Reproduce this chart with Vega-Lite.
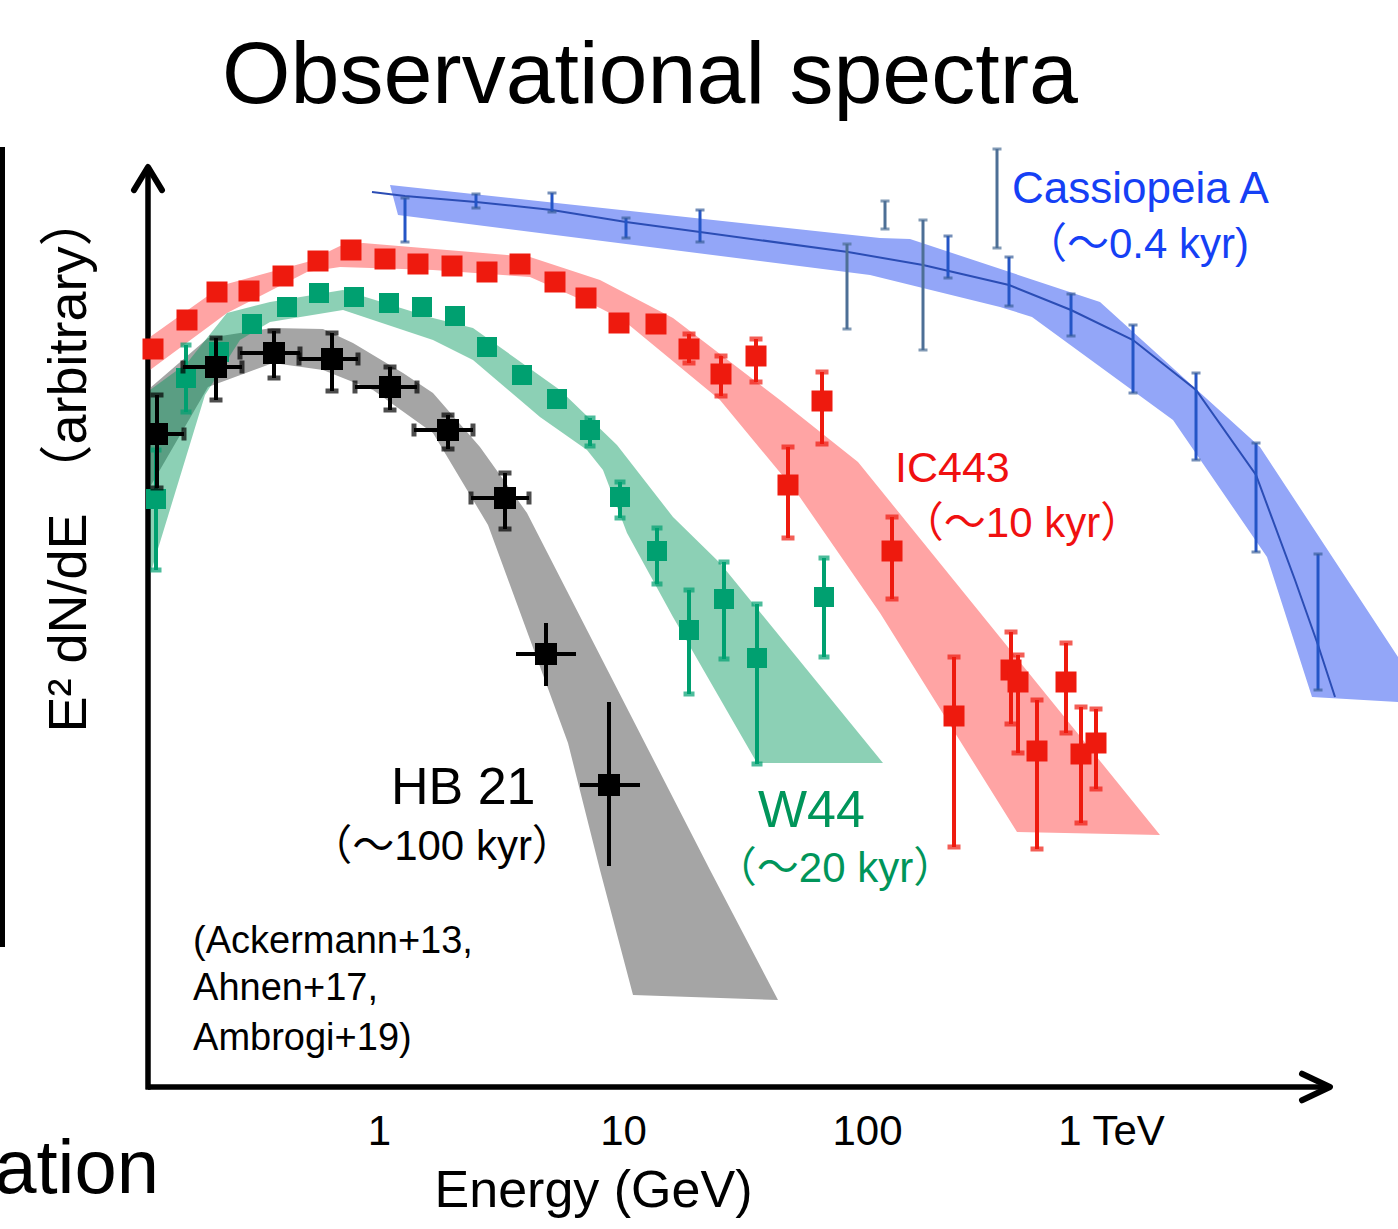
{
  "$schema": "https://vega.github.io/schema/vega-lite/v6.json",
  "width": 1250,
  "height": 947,
  "autosize": "none",
  "padding": {"left": 148, "top": 140, "right": 0, "bottom": 142},
  "background": "white",
  "config": {"view": {"stroke": null}, "font": "Liberation Sans"},
  "title": {"text": "Observational spectra", "fontSize": 88, "font": "Liberation Sans", "fontWeight": "normal", "color": "black", "anchor": "start", "frame": "group", "dx": 74, "dy": 88, "offset": 37, "baseline": "alphabetic"},
  "resolve": {"scale": {"color": "independent", "shape": "independent"}},
  "datasets": {
    "axesLines": [
      {"lx": -0.9467, "y": 0, "lx2": 3.8975, "y2": 0},
      {"lx": -0.9467, "y": 9.2, "lx2": -0.9467, "y2": -0.025},
      {"lx": -1.543, "y": 9.40, "lx2": -1.543, "y2": 1.40}
    ],
    "blueBand": [
      {"i": 0, "lx": 0.0451, "y": 9.02}, {"i": 1, "lx": 2.0533, "y": 8.49}, {"i": 2, "lx": 2.1762, "y": 8.48},
      {"i": 3, "lx": 2.9549, "y": 7.85}, {"i": 4, "lx": 3.6107, "y": 6.40}, {"i": 5, "lx": 4.1762, "y": 4.30},
      {"i": 6, "lx": 4.1762, "y": 3.85}, {"i": 7, "lx": 3.8238, "y": 3.90}, {"i": 8, "lx": 3.6393, "y": 5.30},
      {"i": 9, "lx": 3.2541, "y": 6.67}, {"i": 10, "lx": 2.6762, "y": 7.70}, {"i": 11, "lx": 2.5451, "y": 7.80},
      {"i": 12, "lx": 2.0123, "y": 8.12}, {"i": 13, "lx": 0.0779, "y": 8.72}
    ],
    "redBand": [
      {"i": 0, "lx": -0.9385, "y": 7.50}, {"i": 1, "lx": -0.6393, "y": 8.02}, {"i": 2, "lx": -0.2951, "y": 8.25},
      {"i": 3, "lx": -0.1598, "y": 8.41}, {"i": 4, "lx": -0.0656, "y": 8.44}, {"i": 5, "lx": 0.6189, "y": 8.30},
      {"i": 6, "lx": 0.9057, "y": 8.07}, {"i": 7, "lx": 1.2049, "y": 7.69}, {"i": 8, "lx": 1.6434, "y": 6.87},
      {"i": 9, "lx": 1.9631, "y": 6.25}, {"i": 10, "lx": 3.2008, "y": 2.52}, {"i": 11, "lx": 2.6148, "y": 2.55},
      {"i": 12, "lx": 2.0533, "y": 4.74}, {"i": 13, "lx": 1.7131, "y": 5.94}, {"i": 14, "lx": 1.3975, "y": 6.87},
      {"i": 15, "lx": 1.0000, "y": 7.67}, {"i": 16, "lx": 0.9057, "y": 7.79}, {"i": 17, "lx": 0.6189, "y": 8.10},
      {"i": 18, "lx": 0.2213, "y": 8.17}, {"i": 19, "lx": -0.1598, "y": 8.20}, {"i": 20, "lx": -0.2951, "y": 8.15},
      {"i": 21, "lx": -0.6230, "y": 7.74}, {"i": 22, "lx": -0.9385, "y": 7.17}
    ],
    "grayBand": [
      {"i": 0, "lx": -0.9385, "y": 6.99}, {"i": 1, "lx": -0.7008, "y": 7.49}, {"i": 2, "lx": -0.4385, "y": 7.59},
      {"i": 3, "lx": -0.2295, "y": 7.58}, {"i": 4, "lx": -0.1066, "y": 7.44}, {"i": 5, "lx": 0.0984, "y": 7.14},
      {"i": 6, "lx": 0.2213, "y": 6.94}, {"i": 7, "lx": 0.4139, "y": 6.40}, {"i": 8, "lx": 0.6066, "y": 5.74},
      {"i": 9, "lx": 1.3566, "y": 2.17}, {"i": 10, "lx": 1.6352, "y": 0.87}, {"i": 11, "lx": 1.0410, "y": 0.92},
      {"i": 12, "lx": 0.9057, "y": 2.17}, {"i": 13, "lx": 0.7746, "y": 3.44}, {"i": 14, "lx": 0.4467, "y": 5.62},
      {"i": 15, "lx": 0.2213, "y": 6.54}, {"i": 16, "lx": -0.0246, "y": 6.97}, {"i": 17, "lx": -0.2295, "y": 7.17},
      {"i": 18, "lx": -0.4344, "y": 7.24}, {"i": 19, "lx": -0.7008, "y": 7.00}, {"i": 20, "lx": -0.9385, "y": 6.00}
    ],
    "greenBand": [
      {"i": 0, "lx": -0.9385, "y": 6.97}, {"i": 1, "lx": -0.7869, "y": 7.24}, {"i": 2, "lx": -0.6230, "y": 7.74},
      {"i": 3, "lx": -0.4467, "y": 7.85}, {"i": 4, "lx": -0.1475, "y": 7.97}, {"i": 5, "lx": 0.2213, "y": 7.69},
      {"i": 6, "lx": 0.3852, "y": 7.59}, {"i": 7, "lx": 0.7418, "y": 6.97}, {"i": 8, "lx": 0.9754, "y": 6.42},
      {"i": 9, "lx": 1.2049, "y": 5.70}, {"i": 10, "lx": 1.3975, "y": 5.24}, {"i": 11, "lx": 2.0656, "y": 3.24},
      {"i": 12, "lx": 1.5492, "y": 3.24}, {"i": 13, "lx": 1.2049, "y": 4.70}, {"i": 14, "lx": 1.0164, "y": 5.54},
      {"i": 15, "lx": 0.9180, "y": 6.17}, {"i": 16, "lx": 0.8525, "y": 6.37}, {"i": 17, "lx": 0.6598, "y": 6.70},
      {"i": 18, "lx": 0.3852, "y": 7.27}, {"i": 19, "lx": 0.2213, "y": 7.47}, {"i": 20, "lx": -0.1475, "y": 7.77},
      {"i": 21, "lx": -0.4467, "y": 7.65}, {"i": 22, "lx": -0.5697, "y": 7.47}, {"i": 23, "lx": -0.7131, "y": 6.92},
      {"i": 24, "lx": -0.9385, "y": 5.12}
    ],
    "casLine": [
      {"lx": -0.0287, "y": 8.95}, {"lx": 0.1066, "y": 8.91}, {"lx": 0.3975, "y": 8.85}, {"lx": 0.7090, "y": 8.77},
      {"lx": 1.0123, "y": 8.65}, {"lx": 1.3156, "y": 8.55}, {"lx": 1.9221, "y": 8.35}, {"lx": 2.2295, "y": 8.22},
      {"lx": 2.5820, "y": 8.02}, {"lx": 2.8361, "y": 7.77}, {"lx": 3.0902, "y": 7.47}, {"lx": 3.3484, "y": 6.97},
      {"lx": 3.5943, "y": 6.12}, {"lx": 3.7541, "y": 5.07}, {"lx": 3.8484, "y": 4.42}, {"lx": 3.9180, "y": 3.90}
    ],
    "casErr": [
      {"lx": 0.1066, "y": 8.67, "lo": 8.45, "hi": 8.89, "inst": "B"},
      {"lx": 0.3975, "y": 8.86, "lo": 8.79, "hi": 8.93, "inst": "B"},
      {"lx": 0.7090, "y": 8.84, "lo": 8.75, "hi": 8.94, "inst": "B"},
      {"lx": 1.0123, "y": 8.59, "lo": 8.49, "hi": 8.69, "inst": "B"},
      {"lx": 1.3156, "y": 8.61, "lo": 8.45, "hi": 8.77, "inst": "B"},
      {"lx": 1.9180, "y": 8.03, "lo": 7.58, "hi": 8.43, "inst": "A"},
      {"lx": 2.0738, "y": 8.72, "lo": 8.58, "hi": 8.86, "inst": "A"},
      {"lx": 2.2295, "y": 8.14, "lo": 7.37, "hi": 8.67, "inst": "A"},
      {"lx": 2.3320, "y": 8.30, "lo": 8.09, "hi": 8.51, "inst": "B"},
      {"lx": 2.5328, "y": 8.90, "lo": 8.39, "hi": 9.38, "inst": "A"},
      {"lx": 2.5820, "y": 8.04, "lo": 7.81, "hi": 8.30, "inst": "B"},
      {"lx": 2.8361, "y": 7.72, "lo": 7.51, "hi": 7.93, "inst": "B"},
      {"lx": 3.0902, "y": 7.28, "lo": 6.94, "hi": 7.62, "inst": "B"},
      {"lx": 3.3484, "y": 6.69, "lo": 6.27, "hi": 7.14, "inst": "B"},
      {"lx": 3.5943, "y": 5.90, "lo": 5.35, "hi": 6.44, "inst": "B"},
      {"lx": 3.8484, "y": 4.65, "lo": 3.97, "hi": 5.33, "inst": "B"}
    ],
    "red": [
      {"lx": -0.9262, "y": 7.38}, {"lx": -0.7869, "y": 7.67}, {"lx": -0.6639, "y": 7.95}, {"lx": -0.5328, "y": 7.96},
      {"lx": -0.3934, "y": 8.11}, {"lx": -0.2500, "y": 8.26}, {"lx": -0.1148, "y": 8.37}, {"lx": 0.0246, "y": 8.28},
      {"lx": 0.1598, "y": 8.23}, {"lx": 0.2992, "y": 8.21}, {"lx": 0.4426, "y": 8.15}, {"lx": 0.5779, "y": 8.23},
      {"lx": 0.7213, "y": 8.05}, {"lx": 0.8484, "y": 7.89}, {"lx": 0.9836, "y": 7.64}, {"lx": 1.1352, "y": 7.63},
      {"lx": 1.2705, "y": 7.38, "lo": 7.24, "hi": 7.53},
      {"lx": 1.4016, "y": 7.13, "lo": 6.91, "hi": 7.31},
      {"lx": 1.5451, "y": 7.31, "lo": 7.05, "hi": 7.48},
      {"lx": 1.6762, "y": 6.02, "lo": 5.49, "hi": 6.40},
      {"lx": 1.8156, "y": 6.86, "lo": 6.43, "hi": 7.15},
      {"lx": 2.1025, "y": 5.36, "lo": 4.88, "hi": 5.70},
      {"lx": 2.3566, "y": 3.71, "lo": 2.40, "hi": 4.30},
      {"lx": 2.5902, "y": 4.17, "lo": 3.63, "hi": 4.55},
      {"lx": 2.6189, "y": 4.05, "lo": 3.34, "hi": 4.32},
      {"lx": 2.6967, "y": 3.36, "lo": 2.38, "hi": 3.87},
      {"lx": 2.8156, "y": 4.05, "lo": 3.54, "hi": 4.44},
      {"lx": 2.8770, "y": 3.33, "lo": 2.64, "hi": 3.80},
      {"lx": 2.9385, "y": 3.44, "lo": 2.98, "hi": 3.78}
    ],
    "green": [
      {"lx": -0.9139, "y": 5.88, "lo": 5.17, "hi": 6.37},
      {"lx": -0.7910, "y": 7.09, "lo": 6.75, "hi": 7.42},
      {"lx": -0.6557, "y": 7.35}, {"lx": -0.5205, "y": 7.63}, {"lx": -0.3770, "y": 7.80}, {"lx": -0.2459, "y": 7.94},
      {"lx": -0.1025, "y": 7.90}, {"lx": 0.0410, "y": 7.84}, {"lx": 0.1762, "y": 7.80}, {"lx": 0.3115, "y": 7.71},
      {"lx": 0.4426, "y": 7.40}, {"lx": 0.5861, "y": 7.12}, {"lx": 0.7295, "y": 6.88},
      {"lx": 0.8648, "y": 6.57, "lo": 6.41, "hi": 6.69},
      {"lx": 0.9877, "y": 5.90, "lo": 5.69, "hi": 6.05},
      {"lx": 1.1393, "y": 5.36, "lo": 5.03, "hi": 5.59},
      {"lx": 1.2705, "y": 4.57, "lo": 3.93, "hi": 4.97},
      {"lx": 1.4139, "y": 4.88, "lo": 4.28, "hi": 5.25},
      {"lx": 1.5492, "y": 4.29, "lo": 3.23, "hi": 4.83},
      {"lx": 1.8238, "y": 4.90, "lo": 4.30, "hi": 5.29}
    ],
    "black": [
      {"lx": -0.9098, "y": 6.53, "lo": 5.99, "hi": 6.92, "xlo": -0.9385, "xhi": -0.7992, "cap": true},
      {"lx": -0.6680, "y": 7.20, "lo": 6.87, "hi": 7.49, "xlo": -0.8033, "xhi": -0.5615, "cap": true},
      {"lx": -0.4303, "y": 7.34, "lo": 7.09, "hi": 7.56, "xlo": -0.5697, "xhi": -0.3238, "cap": true},
      {"lx": -0.1926, "y": 7.28, "lo": 6.96, "hi": 7.54, "xlo": -0.3279, "xhi": -0.0861, "cap": true},
      {"lx": 0.0451, "y": 7.00, "lo": 6.77, "hi": 7.20, "xlo": -0.0984, "xhi": 0.1557, "cap": true},
      {"lx": 0.2828, "y": 6.57, "lo": 6.38, "hi": 6.72, "xlo": 0.1434, "xhi": 0.3852, "cap": true},
      {"lx": 0.5164, "y": 5.89, "lo": 5.58, "hi": 6.14, "xlo": 0.3770, "xhi": 0.6148, "cap": true},
      {"lx": 0.6844, "y": 4.33, "lo": 4.01, "hi": 4.64, "xlo": 0.5615, "xhi": 0.8074, "cap": false},
      {"lx": 0.9426, "y": 3.02, "lo": 2.21, "hi": 3.85, "xlo": 0.8238, "xhi": 1.0697, "cap": false}
    ],
    "labels": [
      {"lab": "cas", "lx": 2.5943, "y": 8.84, "t": "Cassiopeia  A"},
      {"lab": "casAge", "lx": 3.5656, "y": 8.29, "t": "（〜0.4 kyr)"},
      {"lab": "ic", "lx": 2.1148, "y": 6.05, "t": "IC443"},
      {"lab": "icAge", "lx": 2.6352, "y": 5.50, "t": "（〜10 kyr）"},
      {"lab": "hb", "lx": 0.0492, "y": 2.83, "t": "HB 21"},
      {"lab": "hbAge", "lx": 0.2582, "y": 2.27, "t": "（〜100 kyr）"},
      {"lab": "w", "lx": 1.5533, "y": 2.60, "t": "W44"},
      {"lab": "wAge", "lx": 1.8689, "y": 2.05, "t": "（〜20 kyr）"},
      {"lab": "ref", "lx": -0.762, "y": 1.34, "t": "(Ackermann+13,"},
      {"lab": "ref", "lx": -0.762, "y": 0.87, "t": "Ahnen+17,"},
      {"lab": "ref", "lx": -0.762, "y": 0.37, "t": "Ambrogi+19)"},
      {"lab": "cut", "lx": -0.9016, "y": -1.06, "t": "ation"}
    ]
  },
  "layer": [
    {"data": {"name": "axesLines"},
      "mark": {"type": "rule", "color": "black", "strokeWidth": 5},
      "encoding": {
        "x": {"field": "lx", "type": "quantitative",
          "scale": {"domain": [-0.9467, 4.1762], "nice": false, "zero": false},
          "axis": {"domain": false, "ticks": false, "grid": false, "values": [0, 1, 2, 3],
            "labelExpr": "datum.value == 3 ? '1 TeV' : datum.value == 2 ? '100' : datum.value == 1 ? '10' : '1'",
            "labelFontSize": 42, "labelFont": "Liberation Sans", "labelColor": "black", "labelPadding": 57,
            "labelBaseline": "alphabetic", "labelFlush": false, "labelOverlap": false,
            "title": "Energy (GeV)", "titleFontSize": 52, "titleFont": "Liberation Sans", "titleFontWeight": "normal",
            "titleColor": "black", "titleX": 445, "titleY": 119, "titleBaseline": "alphabetic", "titleAlign": "center"}},
        "x2": {"field": "lx2"},
        "y": {"field": "y", "type": "quantitative",
          "scale": {"domain": [0, 9.47], "nice": false, "zero": false},
          "axis": {"domain": false, "ticks": false, "labels": false, "grid": false,
            "title": "E² dN/dE （arbitrary）", "titleFontSize": 54, "titleFont": "Liberation Sans, Noto Sans CJK JP",
            "titleFontWeight": "normal", "titleColor": "black", "titleX": -63, "titleY": 322, "titleAngle": 270,
            "titleAlign": "center", "titleBaseline": "alphabetic"}},
        "y2": {"field": "y2"}
      }},
    {"data": {"name": "redBand"}, "mark": {"type": "line", "fill": "#ffa4a4", "strokeWidth": 0},
      "encoding": {"x": {"field": "lx", "type": "quantitative"}, "y": {"field": "y", "type": "quantitative"}, "order": {"field": "i", "type": "quantitative"}}},
    {"data": {"name": "blueBand"}, "mark": {"type": "line", "fill": "#93a6f8", "strokeWidth": 0},
      "encoding": {"x": {"field": "lx", "type": "quantitative"}, "y": {"field": "y", "type": "quantitative"}, "order": {"field": "i", "type": "quantitative"}}},
    {"data": {"name": "grayBand"}, "mark": {"type": "line", "fill": "#a5a5a5", "strokeWidth": 0},
      "encoding": {"x": {"field": "lx", "type": "quantitative"}, "y": {"field": "y", "type": "quantitative"}, "order": {"field": "i", "type": "quantitative"}}},
    {"data": {"name": "greenBand"}, "mark": {"type": "line", "fill": "#00965a", "fillOpacity": 0.45, "strokeWidth": 0},
      "encoding": {"x": {"field": "lx", "type": "quantitative"}, "y": {"field": "y", "type": "quantitative"}, "order": {"field": "i", "type": "quantitative"}}},
    {"data": {"name": "axesLines"},
      "mark": {"type": "rule", "color": "black", "strokeWidth": 5},
      "encoding": {"x": {"field": "lx", "type": "quantitative"}, "x2": {"field": "lx2"}, "y": {"field": "y", "type": "quantitative"}, "y2": {"field": "y2"}}},
    {"data": {"name": "casLine"}, "mark": {"type": "line", "color": "#2b4db5", "strokeWidth": 2},
      "encoding": {"x": {"field": "lx", "type": "quantitative"}, "y": {"field": "y", "type": "quantitative"}}},
    {"data": {"name": "casErr"}, "mark": {"type": "rule", "strokeWidth": 3},
      "encoding": {"x": {"field": "lx", "type": "quantitative"}, "y": {"field": "lo", "type": "quantitative"}, "y2": {"field": "hi"},
        "color": {"field": "inst", "type": "nominal", "scale": {"domain": ["A", "B"], "range": ["#4d6f96", "#2455c6"]}, "legend": null}}},
    {"data": {"name": "casErr"}, "transform": [{"fold": ["lo", "hi"], "as": ["end", "yv"]}],
      "mark": {"type": "tick", "orient": "horizontal", "size": 9, "thickness": 3},
      "encoding": {"x": {"field": "lx", "type": "quantitative"}, "y": {"field": "yv", "type": "quantitative"},
        "color": {"field": "inst", "type": "nominal", "scale": {"domain": ["A", "B"], "range": ["#4d6f96", "#3a5f9a"]}, "legend": null}}},
    {"data": {"name": "red"}, "transform": [{"filter": "isValid(datum.lo)"}], "mark": {"type": "rule", "color": "#ee1a0e", "strokeWidth": 4},
      "encoding": {"x": {"field": "lx", "type": "quantitative"}, "y": {"field": "lo", "type": "quantitative"}, "y2": {"field": "hi"}}},
    {"data": {"name": "red"}, "transform": [{"filter": "isValid(datum.lo)"}, {"fold": ["lo", "hi"], "as": ["end", "yv"]}],
      "mark": {"type": "tick", "orient": "horizontal", "color": "#ee1a0e", "size": 13, "thickness": 5},
      "encoding": {"x": {"field": "lx", "type": "quantitative"}, "y": {"field": "yv", "type": "quantitative"}}},
    {"data": {"name": "red"}, "mark": {"type": "point", "shape": "square", "filled": true, "size": 441, "color": "#ee1a0e", "opacity": 1},
      "encoding": {"x": {"field": "lx", "type": "quantitative"}, "y": {"field": "y", "type": "quantitative"}}},
    {"data": {"name": "green"}, "transform": [{"filter": "isValid(datum.lo)"}], "mark": {"type": "rule", "color": "#00a070", "strokeWidth": 4},
      "encoding": {"x": {"field": "lx", "type": "quantitative"}, "y": {"field": "lo", "type": "quantitative"}, "y2": {"field": "hi"}}},
    {"data": {"name": "green"}, "transform": [{"filter": "isValid(datum.lo)"}, {"fold": ["lo", "hi"], "as": ["end", "yv"]}],
      "mark": {"type": "tick", "orient": "horizontal", "color": "#00a070", "size": 11, "thickness": 5},
      "encoding": {"x": {"field": "lx", "type": "quantitative"}, "y": {"field": "yv", "type": "quantitative"}}},
    {"data": {"name": "green"}, "mark": {"type": "point", "shape": "square", "filled": true, "size": 400, "color": "#00a070", "opacity": 1},
      "encoding": {"x": {"field": "lx", "type": "quantitative"}, "y": {"field": "y", "type": "quantitative"}}},
    {"data": {"name": "black"}, "mark": {"type": "rule", "color": "black", "strokeWidth": 4},
      "encoding": {"x": {"field": "lx", "type": "quantitative"}, "y": {"field": "lo", "type": "quantitative"}, "y2": {"field": "hi"}}},
    {"data": {"name": "black"}, "mark": {"type": "rule", "color": "black", "strokeWidth": 4},
      "encoding": {"x": {"field": "xlo", "type": "quantitative"}, "x2": {"field": "xhi"}, "y": {"field": "y", "type": "quantitative"}}},
    {"data": {"name": "black"}, "transform": [{"filter": "datum.cap"}, {"fold": ["lo", "hi"], "as": ["end", "yv"]}],
      "mark": {"type": "tick", "orient": "horizontal", "color": "black", "size": 13, "thickness": 5},
      "encoding": {"x": {"field": "lx", "type": "quantitative"}, "y": {"field": "yv", "type": "quantitative"}}},
    {"data": {"name": "black"}, "transform": [{"filter": "datum.cap"}, {"fold": ["xlo", "xhi"], "as": ["end", "xv"]}],
      "mark": {"type": "tick", "orient": "vertical", "color": "black", "size": 13, "thickness": 5},
      "encoding": {"x": {"field": "xv", "type": "quantitative"}, "y": {"field": "y", "type": "quantitative"}}},
    {"data": {"name": "black"}, "mark": {"type": "point", "shape": "square", "filled": true, "size": 484, "color": "black", "opacity": 1},
      "encoding": {"x": {"field": "lx", "type": "quantitative"}, "y": {"field": "y", "type": "quantitative"}}},
    {"data": {"values": [{"lx": 3.8975, "y": 0, "dir": "right"}, {"lx": -0.9467, "y": 9.2, "dir": "up"}]},
      "mark": {"type": "point", "filled": false, "size": 784, "strokeWidth": 6, "color": "black", "opacity": 1, "strokeCap": "round", "strokeJoin": "round"},
      "encoding": {"x": {"field": "lx", "type": "quantitative"}, "y": {"field": "y", "type": "quantitative"},
        "shape": {"field": "dir", "type": "nominal", "scale": {"domain": ["right", "up"], "range": ["M-2,-0.95L0,0L-2,0.95", "M-1,1.65L0,0L1,1.65"]}, "legend": null}}},
    {"data": {"name": "labels"}, "transform": [{"filter": "datum.lab == 'cas'"}],
      "mark": {"type": "text", "align": "left", "baseline": "alphabetic", "fontSize": 44, "color": "#1540f5", "font": "Liberation Sans, Noto Sans CJK JP"},
      "encoding": {"x": {"field": "lx", "type": "quantitative"}, "y": {"field": "y", "type": "quantitative"}, "text": {"field": "t"}}},
    {"data": {"name": "labels"}, "transform": [{"filter": "datum.lab == 'casAge'"}],
      "mark": {"type": "text", "align": "right", "baseline": "alphabetic", "fontSize": 42, "color": "#1540f5", "font": "Liberation Sans, Noto Sans CJK JP"},
      "encoding": {"x": {"field": "lx", "type": "quantitative"}, "y": {"field": "y", "type": "quantitative"}, "text": {"field": "t"}}},
    {"data": {"name": "labels"}, "transform": [{"filter": "datum.lab == 'ic'"}],
      "mark": {"type": "text", "align": "left", "baseline": "alphabetic", "fontSize": 43, "color": "#f01010", "font": "Liberation Sans, Noto Sans CJK JP"},
      "encoding": {"x": {"field": "lx", "type": "quantitative"}, "y": {"field": "y", "type": "quantitative"}, "text": {"field": "t"}}},
    {"data": {"name": "labels"}, "transform": [{"filter": "datum.lab == 'icAge'"}],
      "mark": {"type": "text", "align": "center", "baseline": "alphabetic", "fontSize": 42, "color": "#f01010", "font": "Liberation Sans, Noto Sans CJK JP"},
      "encoding": {"x": {"field": "lx", "type": "quantitative"}, "y": {"field": "y", "type": "quantitative"}, "text": {"field": "t"}}},
    {"data": {"name": "labels"}, "transform": [{"filter": "datum.lab == 'hb'"}],
      "mark": {"type": "text", "align": "left", "baseline": "alphabetic", "fontSize": 52, "color": "black", "font": "Liberation Sans, Noto Sans CJK JP"},
      "encoding": {"x": {"field": "lx", "type": "quantitative"}, "y": {"field": "y", "type": "quantitative"}, "text": {"field": "t"}}},
    {"data": {"name": "labels"}, "transform": [{"filter": "datum.lab == 'hbAge'"}],
      "mark": {"type": "text", "align": "center", "baseline": "alphabetic", "fontSize": 42, "color": "black", "font": "Liberation Sans, Noto Sans CJK JP"},
      "encoding": {"x": {"field": "lx", "type": "quantitative"}, "y": {"field": "y", "type": "quantitative"}, "text": {"field": "t"}}},
    {"data": {"name": "labels"}, "transform": [{"filter": "datum.lab == 'w'"}],
      "mark": {"type": "text", "align": "left", "baseline": "alphabetic", "fontSize": 52, "color": "#00955a", "font": "Liberation Sans, Noto Sans CJK JP"},
      "encoding": {"x": {"field": "lx", "type": "quantitative"}, "y": {"field": "y", "type": "quantitative"}, "text": {"field": "t"}}},
    {"data": {"name": "labels"}, "transform": [{"filter": "datum.lab == 'wAge'"}],
      "mark": {"type": "text", "align": "center", "baseline": "alphabetic", "fontSize": 42, "color": "#00955a", "font": "Liberation Sans, Noto Sans CJK JP"},
      "encoding": {"x": {"field": "lx", "type": "quantitative"}, "y": {"field": "y", "type": "quantitative"}, "text": {"field": "t"}}},
    {"data": {"name": "labels"}, "transform": [{"filter": "datum.lab == 'ref'"}],
      "mark": {"type": "text", "align": "left", "baseline": "alphabetic", "fontSize": 38, "color": "black", "font": "Liberation Sans"},
      "encoding": {"x": {"field": "lx", "type": "quantitative"}, "y": {"field": "y", "type": "quantitative"}, "text": {"field": "t"}}},
    {"data": {"name": "labels"}, "transform": [{"filter": "datum.lab == 'cut'"}],
      "mark": {"type": "text", "align": "right", "baseline": "alphabetic", "fontSize": 76, "color": "black", "font": "Liberation Sans"},
      "encoding": {"x": {"field": "lx", "type": "quantitative"}, "y": {"field": "y", "type": "quantitative"}, "text": {"field": "t"}}}
  ]
}
